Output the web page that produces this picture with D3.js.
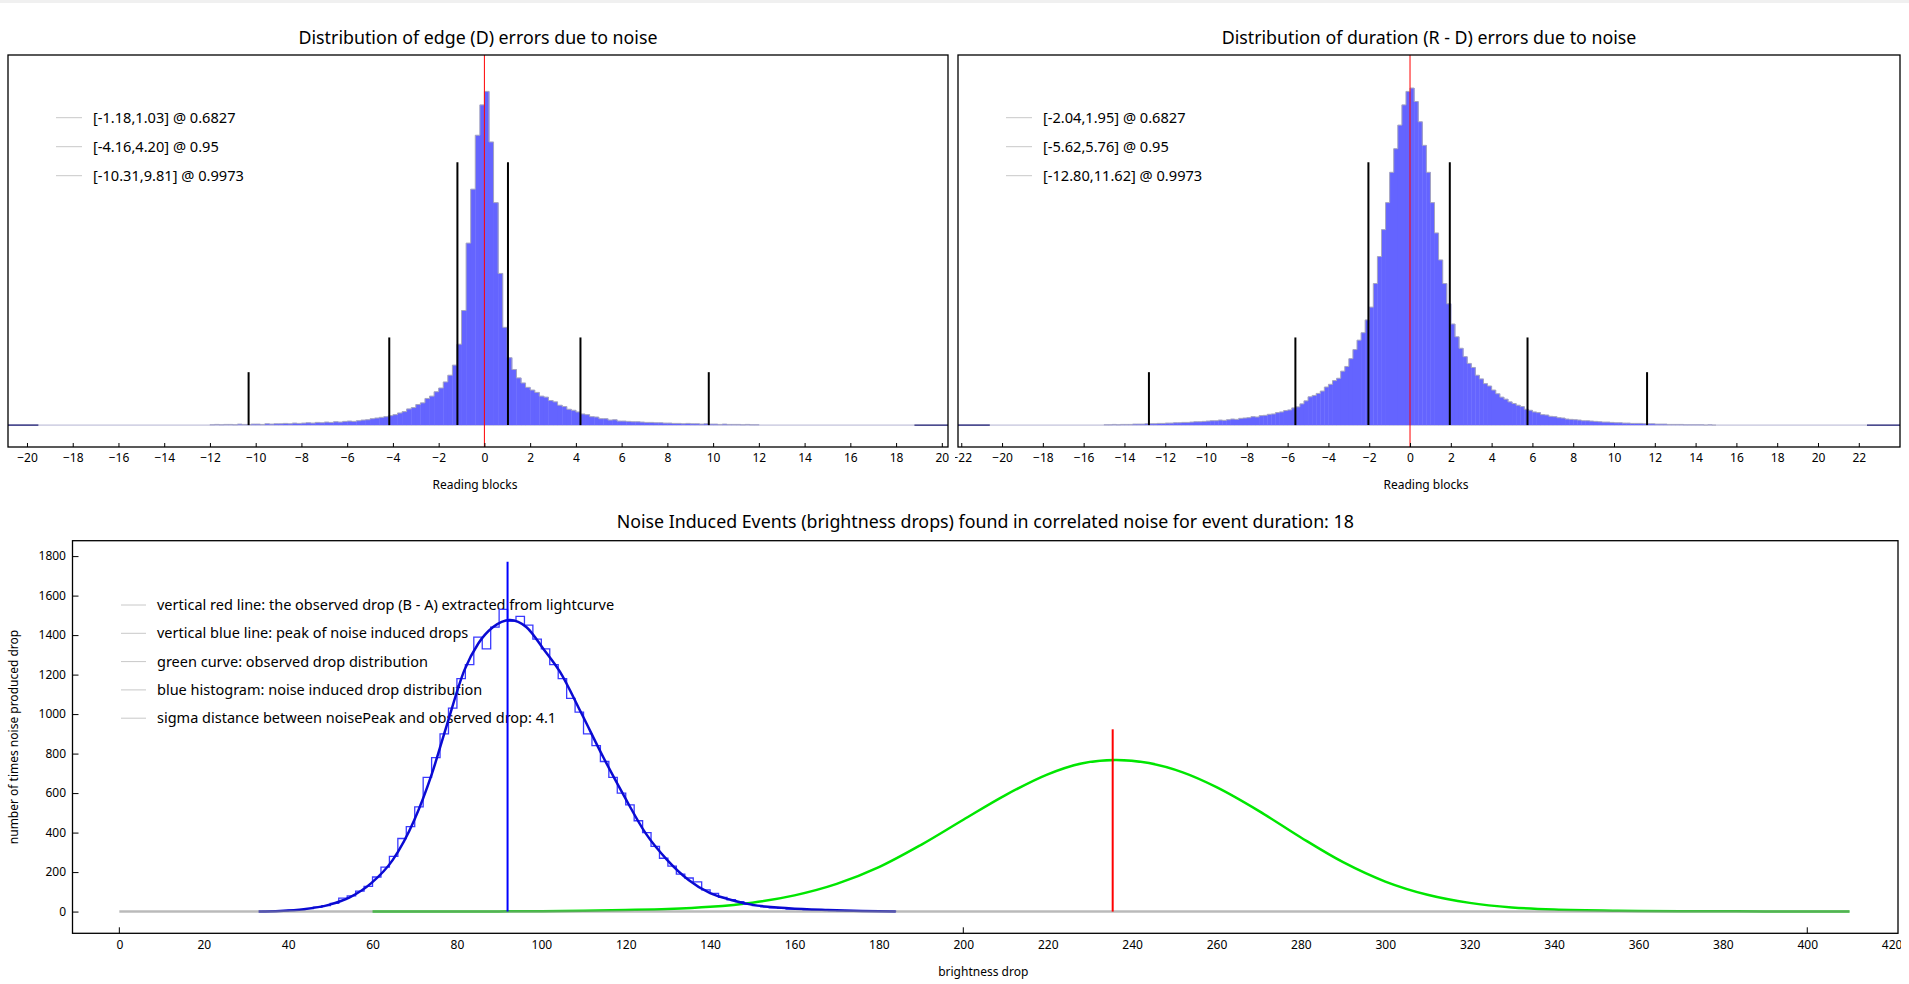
<!DOCTYPE html>
<html>
<head>
<meta charset="utf-8">
<script src="https://cdn.jsdelivr.net/npm/d3@7"></script>
<style>
  html, body { margin: 0; padding: 0; background: #fff; overflow: hidden; }
  svg text { font-family: "Noto Sans", sans-serif; fill: #000; }
</style>
</head>
<body>
<div id="chart"></div>
<script>
// ---------- data ----------

// top panels: histogram bins (width 0.2 reading blocks), heights in per-mille of the peak
const binWidth = 0.2;

const edgeTitle = "Distribution of edge (D) errors due to noise";
const edgeLegend = ["[-1.18,1.03] @ 0.6827", "[-4.16,4.20] @ 0.95", "[-10.31,9.81] @ 0.9973"];
const edgeBounds = [[-1.18, 1.03], [-4.16, 4.20], [-10.31, 9.81]];
const edgeTicks = [-20, -18, -16, -14, -12, -10, -8, -6, -4, -2, 0, 2, 4, 6, 8, 10, 12, 14, 16, 18, 20];
const edgeStart = -12;
const edgeCounts = [
  1, 2, 1, 2, 2, 1, 3, 2, 2, 3,
  3, 2, 4, 3, 4, 4, 5, 4, 6, 5,
  6, 7, 6, 8, 7, 9, 8, 10, 9, 11,
  12, 11, 13, 15, 16, 19, 21, 23, 25, 28,
  31, 36, 40, 48, 52, 61, 66, 79, 86, 99,
  110, 128, 148, 178, 240, 340, 540, 700, 860, 950,
  990, 840, 660, 450, 290, 200, 165, 140, 125, 112,
  104, 97, 86, 83, 73, 69, 59, 55, 47, 44,
  39, 33, 31, 25, 24, 19, 19, 15, 16, 12,
  12, 11, 10, 10, 9, 8, 8, 7, 7, 6,
  6, 5, 5, 4, 5, 4, 4, 3, 4, 3,
  3, 2, 3, 2, 2, 2, 1, 2, 1, 1
];
const edgeOuter = [-19.5, 18.8];   // where the dark end segments of the zero line begin

const durTitle = "Distribution of duration (R - D) errors due to noise";
const durLegend = ["[-2.04,1.95] @ 0.6827", "[-5.62,5.76] @ 0.95", "[-12.80,11.62] @ 0.9973"];
const durBounds = [[-2.04, 1.95], [-5.62, 5.76], [-12.80, 11.62]];
const durTicks = [-22, -20, -18, -16, -14, -12, -10, -8, -6, -4, -2, 0, 2, 4, 6, 8, 10, 12, 14, 16, 18, 20, 22];
const durStart = -15;
const durCounts = [
  1, 1, 2, 1, 2, 2, 2, 3, 3, 3, 4, 4, 4, 5, 5,
  6, 6, 7, 7, 8, 8, 9, 10, 10, 11,
  12, 13, 13, 15, 14, 16, 18, 17, 20, 21,
  22, 25, 24, 28, 29, 32, 33, 37, 39, 43,
  45, 51, 54, 63, 72, 84, 88, 94, 101, 113,
  121, 132, 139, 160, 174, 197, 224, 252, 274, 312,
  350, 420, 500, 580, 660, 750, 820, 890, 950, 990,
  1000, 960, 900, 830, 750, 660, 570, 490, 420, 360,
  300, 262, 228, 203, 183, 171, 148, 137, 123, 116,
  104, 93, 83, 77, 69, 64, 59, 55, 47, 44,
  39, 37, 31, 30, 26, 25, 22, 21, 18, 17,
  16, 15, 13, 13, 12, 11, 10, 9, 9, 8,
  7, 7, 6, 6, 5, 5, 5, 4, 4, 4,
  3, 3, 3, 2, 2, 2, 2, 1, 1, 1, 1, 1, 0, 1, 0
];
const durOuter = [-20.6, 22.4];

// heights of the black confidence markers, relative to the histogram peak
const boundHeights = [0.78, 0.26, 0.157];

// bottom panel
const noiseTitle = "Noise Induced Events (brightness drops) found in correlated noise for event duration: 18";
const noiseLegend = [
  "vertical red line: the observed drop (B - A) extracted from lightcurve",
  "vertical blue line: peak of noise induced drops",
  "green curve: observed drop distribution",
  "blue histogram: noise induced drop distribution",
  "sigma distance between noisePeak and observed drop: 4.1"
];
const dropTicks = [0, 20, 40, 60, 80, 100, 120, 140, 160, 180, 200, 220, 240, 260, 280, 300, 320, 340, 360, 380, 400, 420];
const dropMajorTicks = [0, 200, 400];
const countTicks = [0, 200, 400, 600, 800, 1000, 1200, 1400, 1600, 1800];

// blue histogram: bins of 2 brightness units starting at 34
const noiseBinStart = 34;
const noiseBinWidth = 2;
const noiseCounts = [
  1, 2, 4, 6, 10, 15, 22, 30, 42, 68,
  80, 104, 128, 175, 225, 280, 370, 430, 530, 680,
  780, 900, 1030, 1180, 1250, 1390, 1330, 1440, 1530, 1470,
  1495, 1450, 1380, 1330, 1250, 1180, 1080, 1010, 900, 840,
  760, 680, 600, 540, 460, 400, 330, 270, 230, 190,
  170, 150, 110, 92, 72, 60, 50, 36, 30, 24,
  19, 16, 13, 11, 9, 7, 6, 5, 4, 3,
  3, 2, 1, 1, 1
];

// blue fitted curve [drop, count]
const noiseCurve = [
  [33, 0], [38, 3], [43.7, 12], [49.6, 34], [54.7, 73], [59.7, 144], [64.8, 262],
  [69.9, 464], [74.1, 700], [77.5, 937], [81.8, 1224], [85.1, 1359], [88.5, 1440],
  [92.6, 1477], [96.5, 1440], [100.5, 1330], [104.4, 1215], [109.5, 1004],
  [114.6, 785], [119.7, 582], [124.7, 397], [129.8, 262], [134.9, 160], [140, 93],
  [145, 59], [150.1, 34], [158.6, 17], [167.9, 8], [176, 3], [184, 0]
];

// green observed drop distribution [drop, count]
const observedCurve = [
  [60, 0], [90, 1], [105, 3], [120, 8], [130, 13], [140, 24], [150, 45], [160, 82],
  [170, 140], [180, 225], [190, 338], [200, 465], [210, 590], [220, 695], [228, 750],
  [236, 768], [244, 752], [252, 705], [260, 630], [270, 510], [280, 375], [290, 250],
  [300, 152], [310, 85], [320, 44], [330, 21], [340, 10], [355, 4], [370, 2], [390, 1], [410, 0]
];

const zeroLineRange = [0, 410];
const noisePeak = { x: 92, top: 1772 };
const observedDrop = { x: 235.4, top: 923 };

// ---------- drawing ----------
const W = 1909, H = 984;
const svg = d3.select("#chart").append("svg")
  .attr("width", W).attr("height", H);

svg.append("rect").attr("x", 0).attr("y", 0).attr("width", W).attr("height", 3).attr("fill", "#f0f0f0");

const defs = svg.append("defs");
function addClip(id, x0, x1) {
  defs.append("clipPath").attr("id", id)
    .append("rect").attr("x", x0).attr("y", 0).attr("width", x1 - x0).attr("height", H);
}
addClip("clipEdge", 0, 953);
addClip("clipDur", 955, 1901);
addClip("clipNoise", 0, 1901);

const topBox = { top: 55, bottom: 447 };
const topY = d3.scaleLinear().domain([-0.065, 1.098]).range([topBox.bottom, topBox.top]);

function distributionPanel(p) {
  let g = svg.append("g").attr("clip-path", "url(#" + p.clip + ")");
  let x = d3.scaleLinear().domain(p.domain).range([p.left, p.right]);
  let y = topY;

  g.append("text")
    .attr("x", (p.left + p.right) / 2).attr("y", 43.5)
    .attr("text-anchor", "middle").style("font-size", "17.8px")
    .text(p.title);

  // legend
  p.legend.forEach(function(t, i) {
    let ly = 117.7 + i * 29;
    g.append("line")
      .attr("x1", p.left + 48).attr("x2", p.left + 74)
      .attr("y1", ly).attr("y2", ly)
      .attr("stroke", "#c8c8c8").attr("stroke-width", 1);
    g.append("text")
      .attr("x", p.left + 85).attr("y", ly + 5)
      .style("font-size", "14.6px")
      .text(t);
  });

  // zero line with dark end segments
  g.append("line")
    .attr("x1", x(p.outer[0])).attr("x2", x(p.outer[1]))
    .attr("y1", y(0)).attr("y2", y(0))
    .attr("stroke", "#b4b4d2").attr("stroke-width", 1);
  [[p.domain[0], p.outer[0]], [p.outer[1], p.domain[1]]].forEach(function(s) {
    g.append("line")
      .attr("x1", x(s[0])).attr("x2", x(s[1]))
      .attr("y1", y(0)).attr("y2", y(0))
      .attr("stroke", "#10106a").attr("stroke-width", 1.3);
  });

  // histogram
  let bins = p.counts.map(function(c, i) {
    return { x0: p.start + i * binWidth, x1: p.start + (i + 1) * binWidth, h: c / 1000 };
  });
  g.selectAll("rect.bin").data(bins).join("rect")
    .attr("class", "bin")
    .attr("x", d => x(d.x0))
    .attr("width", d => x(d.x1) - x(d.x0) + 0.4)
    .attr("y", d => y(d.h))
    .attr("height", d => y(0) - y(d.h))
    .attr("fill", "#6464ff");

  let last = bins[bins.length - 1];
  let outlinePts = [[bins[0].x0, 0]].concat(bins.map(b => [b.x0, b.h]), [[last.x1, last.h], [last.x1, 0]]);
  g.append("path")
    .attr("d", d3.line().x(d => x(d[0])).y(d => y(d[1])).curve(d3.curveStepAfter)(outlinePts))
    .attr("fill", "none")
    .attr("stroke", "#a6a6c0").attr("stroke-width", 1);

  // confidence markers
  p.bounds.forEach(function(b, i) {
    b.forEach(function(v) {
      g.append("line")
        .attr("x1", x(v)).attr("x2", x(v))
        .attr("y1", y(0)).attr("y2", y(boundHeights[i]))
        .attr("stroke", "#000").attr("stroke-width", 2);
    });
  });

  // zero marker
  g.append("line")
    .attr("x1", x(0)).attr("x2", x(0))
    .attr("y1", topBox.top).attr("y2", topBox.bottom)
    .attr("stroke", "#ff0000").attr("stroke-width", 1);

  // axis
  let axis = d3.axisBottom(x)
    .tickValues(p.ticks)
    .tickFormat(d3.format("d"))
    .tickSizeInner(-4).tickSizeOuter(0).tickPadding(6);
  let ag = g.append("g")
    .attr("transform", "translate(0," + topBox.bottom + ")")
    .call(axis);
  ag.select(".domain").remove();
  ag.selectAll("text").style("font-size", "12px").style("font-family", "Noto Sans");
  ag.selectAll("line").attr("stroke", "#000");

  g.append("rect")
    .attr("x", p.left).attr("y", topBox.top)
    .attr("width", p.right - p.left).attr("height", topBox.bottom - topBox.top)
    .attr("fill", "none").attr("stroke", "#000").attr("stroke-width", 1.3);

  g.append("text")
    .attr("x", (p.left + p.right) / 2 - 3).attr("y", 489)
    .attr("text-anchor", "middle").style("font-size", "12px")
    .text("Reading blocks");
}

distributionPanel({
  clip: "clipEdge", left: 8, right: 948, domain: [-20.83, 20.27],
  title: edgeTitle, legend: edgeLegend, bounds: edgeBounds, ticks: edgeTicks,
  start: edgeStart, counts: edgeCounts, outer: edgeOuter
});
distributionPanel({
  clip: "clipDur", left: 958, right: 1900, domain: [-22.16, 24.02],
  title: durTitle, legend: durLegend, bounds: durBounds, ticks: durTicks,
  start: durStart, counts: durCounts, outer: durOuter
});

// ---------- bottom panel ----------
const nb = { left: 72.5, right: 1898, top: 540.7, bottom: 933.3 };
const gx = d3.scaleLinear().domain([-11.1, 421.5]).range([nb.left, nb.right]);
const gy = d3.scaleLinear().domain([-110, 1878]).range([nb.bottom, nb.top]);
const ng = svg.append("g").attr("clip-path", "url(#clipNoise)");

ng.append("text")
  .attr("x", (nb.left + nb.right) / 2).attr("y", 528)
  .attr("text-anchor", "middle").style("font-size", "17.8px")
  .text(noiseTitle);

noiseLegend.forEach(function(t, i) {
  let ly = 605 + i * 28.3;
  ng.append("line")
    .attr("x1", 121).attr("x2", 146).attr("y1", ly).attr("y2", ly)
    .attr("stroke", "#c8c8c8").attr("stroke-width", 1);
  ng.append("text")
    .attr("x", 157).attr("y", ly + 5)
    .style("font-size", "14.5px")
    .text(t);
});

// green observed curve
ng.append("path")
  .attr("d", d3.line().x(d => gx(d[0])).y(d => gy(d[1])).curve(d3.curveCatmullRom)(observedCurve))
  .attr("fill", "none").attr("stroke", "#00e600").attr("stroke-width", 2.5);

// blue histogram outline
let nBins = noiseCounts.map((c, i) => [noiseBinStart + i * noiseBinWidth, c]);
let nEnd = noiseBinStart + noiseCounts.length * noiseBinWidth;
let nPts = [[noiseBinStart, 0]].concat(nBins, [[nEnd, noiseCounts[noiseCounts.length - 1]], [nEnd, 0]]);
ng.append("path")
  .attr("d", d3.line().x(d => gx(d[0])).y(d => gy(d[1])).curve(d3.curveStepAfter)(nPts))
  .attr("fill", "none").attr("stroke", "#3a3aff").attr("stroke-width", 1.3);

// blue fitted curve
ng.append("path")
  .attr("d", d3.line().x(d => gx(d[0])).y(d => gy(d[1])).curve(d3.curveMonotoneX)(noiseCurve))
  .attr("fill", "none").attr("stroke", "#0a0ad2").attr("stroke-width", 2.5);

// zero line (semi transparent gray on top)
ng.append("line")
  .attr("x1", gx(zeroLineRange[0])).attr("x2", gx(zeroLineRange[1]))
  .attr("y1", gy(0)).attr("y2", gy(0))
  .attr("stroke", "rgba(140,140,140,0.6)").attr("stroke-width", 2.5);

// vertical markers
ng.append("line")
  .attr("x1", gx(noisePeak.x)).attr("x2", gx(noisePeak.x))
  .attr("y1", gy(0)).attr("y2", gy(noisePeak.top))
  .attr("stroke", "#0000ff").attr("stroke-width", 2);
ng.append("line")
  .attr("x1", gx(observedDrop.x)).attr("x2", gx(observedDrop.x))
  .attr("y1", gy(0)).attr("y2", gy(observedDrop.top))
  .attr("stroke", "#ff0000").attr("stroke-width", 2);

// axes
let xAxis = d3.axisBottom(gx).tickValues(dropTicks).tickFormat(d3.format("d"))
  .tickSize(0).tickPadding(7);
let xg = ng.append("g").attr("transform", "translate(0," + nb.bottom + ")").call(xAxis);
xg.select(".domain").remove();
xg.selectAll("text").style("font-size", "12px").style("font-family", "Noto Sans");

ng.selectAll("line.major").data(dropMajorTicks).join("line")
  .attr("class", "major")
  .attr("x1", d => gx(d)).attr("x2", d => gx(d))
  .attr("y1", nb.bottom).attr("y2", nb.bottom - 6)
  .attr("stroke", "#000").attr("stroke-width", 1);

let yAxis = d3.axisLeft(gy).tickValues(countTicks).tickFormat(d3.format("d"))
  .tickSizeInner(-6).tickSizeOuter(0).tickPadding(6.5);
let yg = ng.append("g").attr("transform", "translate(" + nb.left + ",0)").call(yAxis);
yg.select(".domain").remove();
yg.selectAll("text").style("font-size", "12px").style("font-family", "Noto Sans");
yg.selectAll("line").attr("stroke", "#000");

ng.append("rect")
  .attr("x", nb.left).attr("y", nb.top)
  .attr("width", nb.right - nb.left).attr("height", nb.bottom - nb.top)
  .attr("fill", "none").attr("stroke", "#000").attr("stroke-width", 1.3);

ng.append("text")
  .attr("x", (nb.left + nb.right) / 2 - 2).attr("y", 976)
  .attr("text-anchor", "middle").style("font-size", "12px")
  .text("brightness drop");

ng.append("text")
  .attr("transform", "translate(18,737) rotate(-90)")
  .attr("text-anchor", "middle").style("font-size", "12px")
  .text("number of times noise produced drop");
</script>
</body>
</html>
